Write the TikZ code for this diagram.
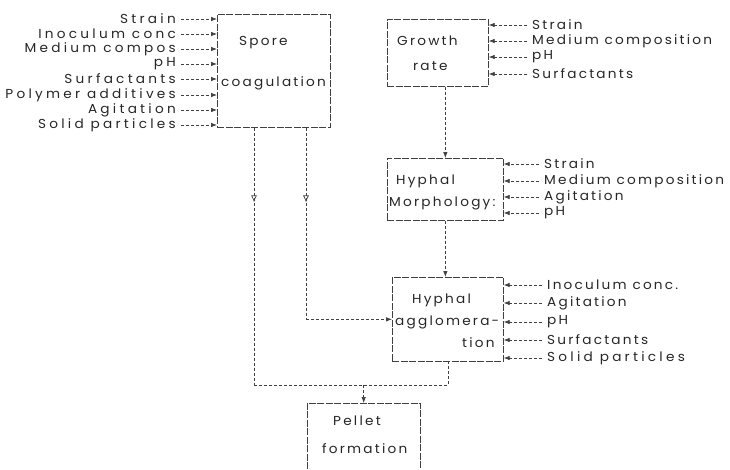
\documentclass[tikz,border=0pt]{standalone}
\usepackage{fontspec}
\setmainfont{Poppins}[FakeStretch=1.05, LetterSpace=17]
\newfontfamily\widefont{Poppins}[FakeStretch=1.05, LetterSpace=25]
\usetikzlibrary{arrows.meta,decorations.markings}
\begin{document}
\begin{tikzpicture}[x=1pt,y=-1pt,
  txt/.style={font=\fontsize{13}{15}\selectfont, text=black!85, inner sep=0pt, anchor=west},
  wtxt/.style={txt, font=\widefont\fontsize{13}{15}\selectfont},
  labl/.style={wtxt, anchor=east},
  conn/.style={draw=black!75, line width=0.7pt, dash pattern=on 3pt off 2pt},
  inarr/.style={conn, -{Latex[length=6pt,width=4.5pt]}},
  boxs/.style={draw=black!75, line width=0.7pt, dash pattern=on 7pt off 1.5pt, inner sep=0pt, anchor=north west},
  midarrow/.style={postaction={decorate}, decoration={markings, mark=at position #1 with {\arrow{Latex[open,length=7pt,width=6pt]}}}}
]
\useasboundingbox (0,0) rectangle (730,469);

% boxes
\node[boxs, minimum width=113pt, minimum height=113pt] (spore) at (217,14) {};
\node[boxs, minimum width=101pt, minimum height=67pt] (growth) at (387,19) {};
\node[boxs, minimum width=116pt, minimum height=62pt] (morph) at (387,158) {};
\node[boxs, minimum width=111pt, minimum height=84pt] (aggl) at (392,277) {};
\node[inner sep=0pt, anchor=north west, minimum width=113pt, minimum height=66pt] (pellet) at (307,403) {};
\draw[conn, dash pattern=on 7pt off 1.5pt] (pellet.south west) -- (pellet.north west) -- (pellet.north east) -- (pellet.south east);

% box texts
\node[txt] (st1) at (239,43) {Spore};
\node[txt] (st2) at (221,83) {coagulation};
\node[txt] (gt1) at (397,41) {Growth};
\node[txt] (gt2) at (413,66) {rate};
\node[txt] (mt1) at (396,181) {Hyphal};
\node[txt] (mt2) at (389,203) {Morphology:};
\node[txt] (at1) at (412,300) {Hyphal};
\node[txt] (at2) at (395,322) {agglomera-};
\node[txt] (at3) at (462,343) {tion};
\node[txt] (pt1) at (333,421) {Pellet};
\node[txt] (pt2) at (322,449) {formation};

% left labels into spore coagulation
\foreach \n/\yy/\t in {l1/19/Strain, l2/34/Inoculum conc, l3/49/Medium compos, l4/64/pH, l5/79/Surfactants, l6/95/Polymer additives, l7/110/Agitation, l8/125/Solid particles}{
  \node[labl] (\n) at (176,\yy) {\t};
  \draw[inarr, shorten <=5pt] (\n.east) -- (\n -| spore.west);
}

% growth rate labels
\foreach \n/\yy/\t in {g1/25/Strain, g2/41/Medium composition, g3/57/pH, g4/74/Surfactants}{
  \node[txt] (\n) at (532,\yy) {\t};
  \draw[inarr, shorten <=5pt] (\n.west) -- (\n -| growth.east);
}

% hyphal morphology labels
\foreach \n/\yy/\t in {m1/164/Strain, m2/181/Medium composition, m3/197/Agitation, m4/213/pH}{
  \node[txt] (\n) at (544,\yy) {\t};
  \draw[inarr, shorten <=5pt] (\n.west) -- (\n -| morph.east);
}

% hyphal agglomeration labels
\foreach \n/\yy/\t/\s in {a1/285/Inoculum conc./txt, a2/303/Agitation/txt, a3/322/pH/txt, a4/340/Surfactants/txt, a5/358/Solid particles/wtxt}{
  \node[\s] (\n) at (547,\yy) {\t};
  \draw[inarr, shorten <=5pt] (\n.west) -- (\n -| aggl.east);
}

% main flow
\draw[inarr] (morph.north |- growth.south) -- (morph.north);
\draw[inarr] (morph.south) -- (morph.south |- aggl.north);

\coordinate (sa) at ([xshift=37pt]spore.south west);
\coordinate (sb) at ([xshift=89pt]spore.south west);
\coordinate (j) at (pellet.north |- 0,385);

\draw[conn, midarrow=0.29] (sa) -- (sa |- j);
\draw[conn] (sa |- j) -- (aggl.south |- j) -- (aggl.south);
\draw[inarr] (j) -- (pellet.north);
\draw[conn, midarrow=0.39] (sb) -- (sb |- aggl.west);
\draw[inarr] (sb |- aggl.west) -- (aggl.west);
\end{tikzpicture}
\end{document}
